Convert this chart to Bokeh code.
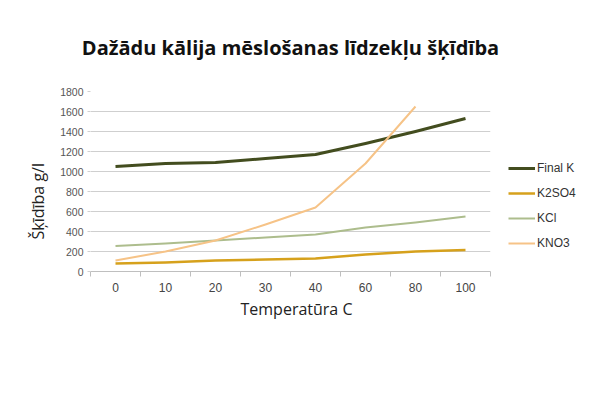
from bokeh.plotting import figure
from bokeh.models import (ColumnDataSource, Legend, LegendItem, FixedTicker,
                          Range1d, Title)
from bokeh.embed import file_html
from bokeh.resources import INLINE

# ---- data ----
temps = ["0", "10", "20", "30", "40", "60", "80", "100"]
final_k = [1050, 1080, 1090, 1130, 1170, 1280, 1400, 1530]
k2so4 = [80, 90, 110, 120, 130, 170, 200, 215]
kcl = [255, 280, 310, 340, 370, 440, 490, 550]
kno3 = [110, 200, 310, 470, 640, 1080, 1650]
y_ticks = [0, 200, 400, 600, 800, 1000, 1200, 1400, 1600, 1800]

series_names = ["Final K", "K2SO4", "KCl", "KNO3"]
series_colors = ["#434d1f", "#d6a11c", "#adbd8d", "#f6c387"]
series_widths = [3, 2.5, 2, 2]

title_text = "Dažādu kālija mēslošanas līdzekļu šķīdība"
x_label = "Temperatūra C"
y_label = "Šķīdība g/l"

xs = list(range(len(temps)))

p = figure(frame_width=400, frame_height=180, output_backend="svg", toolbar_location=None,
           x_range=Range1d(-0.5, len(temps) - 0.5), y_range=Range1d(0, 1800),
           min_border_left=90, min_border_right=104, min_border_top=91,
           min_border_bottom=127, background_fill_color="white",
           border_fill_color="white", outline_line_color=None)

# axes
p.xaxis.ticker = FixedTicker(ticks=xs, minor_ticks=[i - 0.5 for i in range(len(temps) + 1)])
p.xaxis.major_label_overrides = {i: t for i, t in enumerate(temps)}
p.xaxis.major_tick_line_color = None
p.xaxis.minor_tick_line_color = "#bfbfbf"
p.xaxis.minor_tick_out = 5
p.xaxis.minor_tick_in = 0
p.xaxis.axis_line_color = "#bfbfbf"
p.xaxis.major_label_text_font = "Liberation Sans"
p.xaxis.major_label_text_font_size = "12px"
p.xaxis.major_label_text_color = "#444444"
p.xaxis.major_label_standoff = 5

p.yaxis.ticker = FixedTicker(ticks=y_ticks)
p.yaxis.axis_line_color = None
p.yaxis.major_tick_line_color = "#d0d0d0"
p.yaxis.major_tick_out = 3
p.yaxis.major_tick_in = 0
p.yaxis.minor_tick_line_color = None
p.yaxis.major_label_text_font = "Liberation Sans"
p.yaxis.major_label_text_font_size = "10.5px"
p.yaxis.major_label_text_color = "#555555"
p.yaxis.major_label_standoff = 4

p.xgrid.grid_line_color = None
p.ygrid.grid_line_color = "#cfcfcf"
p.ygrid.grid_line_width = 1

# lines
all_series = [final_k, k2so4, kcl, kno3]
items = []
for name, vals, col, w in zip(series_names, all_series, series_colors, series_widths):
    src = ColumnDataSource(dict(x=xs[:len(vals)], y=vals))
    r = p.line("x", "y", source=src, line_color=col, line_width=w, line_join="round")
    items.append(LegendItem(label=name, renderers=[r]))

legend = Legend(items=items, location="bottom_left", orientation="vertical",
                label_text_font="Liberation Sans", label_text_font_size="12px",
                label_text_color="#333333", glyph_width=27, glyph_height=20,
                label_height=20, spacing=5, padding=0, margin=18,
                border_line_color=None, background_fill_alpha=0,
                label_standoff=2)
p.add_layout(legend, "right")

# texts
p.add_layout(Title(text=title_text, align="center", text_font="Open Sans",
                   text_font_style="bold", text_font_size="20px",
                   text_color="#111111", standoff=62), "above")
p.add_layout(Title(text=x_label, align="left", offset=150, text_font="Open Sans",
                   text_font_style="normal", text_font_size="16px",
                   text_color="#222222", standoff=3), "below")
p.add_layout(Title(text=y_label, align="left", offset=32, text_font="Open Sans",
                   text_font_style="normal", text_font_size="16px",
                   text_color="#222222", standoff=17), "left")

open("out.html", "w").write(file_html(p, INLINE))
